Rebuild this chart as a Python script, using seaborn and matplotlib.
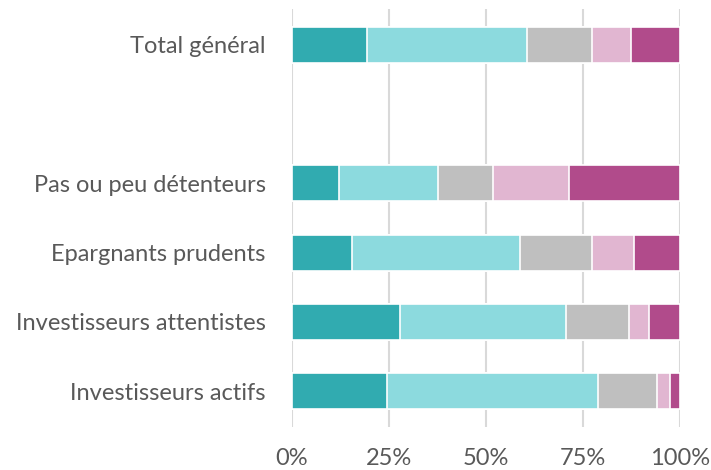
import matplotlib
matplotlib.use("Agg")
import matplotlib.pyplot as plt
import seaborn as sns
import pandas as pd
import numpy as np

categories = ["Total général", " ", "Pas ou peu détenteurs", "Epargnants prudents",
              "Investisseurs attentistes", "Investisseurs actifs"]
data_categories = ["Total général", "Pas ou peu détenteurs", "Epargnants prudents",
                   "Investisseurs attentistes", "Investisseurs actifs"]
seg1 = [19.3, 12.1, 15.4, 27.9, 24.4]
seg2 = [41.3, 25.4, 43.3, 42.6, 54.4]
seg3 = [16.7, 14.4, 18.6, 16.4, 15.3]
seg4 = [10.0, 19.6, 10.9, 5.0, 3.2]
seg5 = [12.7, 28.5, 11.8, 8.1, 2.7]
colors = ["#31ABB0", "#8CDADE", "#BFBFBF", "#E1B6D1", "#B14B8B"]
xticks = [0, 25, 50, 75, 100]
xticklabels = ["0%", "25%", "50%", "75%", "100%"]

sns.set_style("white")
plt.rcParams["font.family"] = ["Lato", "DejaVu Sans"]

fig = plt.figure(figsize=(7.11, 4.70), dpi=100)
ax = fig.add_axes([292 / 711, 1 - 427 / 470, 388 / 711, 418 / 470])

segs = [seg1, seg2, seg3, seg4, seg5]
cum = np.cumsum(np.array(segs), axis=0)
for i in range(len(segs) - 1, -1, -1):
    df = pd.DataFrame({"cat": data_categories, "val": cum[i]})
    sns.barplot(data=df, y="cat", x="val", order=categories, color=colors[i],
                saturation=1, width=0.52, edgecolor="white", linewidth=1.2,
                ax=ax, zorder=3)

ax.set_xlim(0, 100)
ax.set_ylim(5.52, -0.52)
ax.set_xticks(xticks)
ax.set_xticklabels(xticklabels)
ax.set_xlabel("")
ax.set_ylabel("")
ax.grid(axis="x", color="#D9D9D9", linewidth=1.5, zorder=0)
ax.set_axisbelow(True)
for s in ax.spines.values():
    s.set_visible(False)
ax.tick_params(axis="x", length=0, pad=15, labelsize=17, labelcolor="#595959")
ax.tick_params(axis="y", length=0, pad=19, labelsize=17, labelcolor="#595959")

fig.savefig("out.png", dpi=100)
